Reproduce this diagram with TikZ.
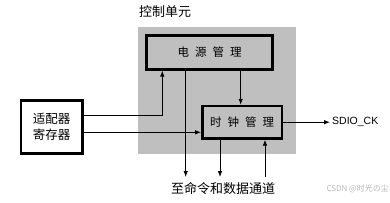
\documentclass[tikz,border=0pt]{standalone}
\usepackage{fontspec}
\setmainfont{Liberation Sans}
\newfontfamily\cjk{Noto Sans CJK SC}
\usetikzlibrary{arrows.meta,positioning}
\colorlet{ctrlGray}{black!25}
\newcommand{\cjkgap}{\hspace{6pt}}
\tikzset{
  >=Latex,
  panel/.style={
    fill=ctrlGray,
    draw=none,
    inner sep=0pt
  },
  unit/.style={
    draw=black,
    fill=ctrlGray,
    line width=2.6pt,
    inner sep=0pt,
    align=center,
    font=\cjk\fontsize{11.5}{14}\selectfont
  },
  regbox/.style={
    draw=black,
    fill=white,
    line width=2.6pt,
    inner sep=0pt,
    align=center,
    font=\cjk\fontsize{12.5}{16}\selectfont
  },
  arrow/.style={
    -{Latex[length=6pt,width=4.5pt]},
    line width=0.8pt,
    draw=black
  },
  lab/.style={
    font=\cjk\fontsize{13}{15}\selectfont,
    inner sep=0pt
  }
}
\begin{document}
\begin{tikzpicture}[x=1pt,y=-1pt]
\useasboundingbox (0,0) rectangle (390,202);

\node[panel, minimum width=158pt, minimum height=127pt] (ctrl) at (217,90) {};
\node[lab] (ctrltitle) at (165,12) {控制单元};

\node[unit, minimum width=126pt, minimum height=33.5pt] (power) at (209.7,52.5)
{电\cjkgap 源\cjkgap 管\cjkgap 理};
\node[unit, minimum width=79.7pt, minimum height=32.3pt] (clock) at (242.2,122.2)
{时\cjkgap 钟\cjkgap 管\cjkgap 理};
\node[regbox, minimum width=61.3pt, minimum height=52.6pt] (adapter) at (51.7,127)
{适配器\\寄存器};

\node[lab] (bus) at (223,189) {至命令和数据通道};
\node[font=\fontsize{10.5}{12}\selectfont, anchor=west, inner sep=0pt] (sdio) at (332,121.5) {SDIO\_CK};
\node[font=\cjk\fontsize{8}{10}\selectfont, text=black!28, anchor=east, inner sep=0pt] (mark) at (389,189) {CSDN @时光の尘};

% connector end points
\coordinate (a1) at ([yshift=11.3pt]adapter.east);
\coordinate (a2) at ([yshift=-5.3pt]adapter.east);
\coordinate (p1) at ([xshift=-47.4pt]power.south);
\coordinate (p2) at ([xshift=-24pt]power.south);
\coordinate (p3) at ([xshift=31pt]power.south);
\coordinate (c1) at ([xshift=-22.2pt]clock.south);
\coordinate (c2) at ([xshift=22.8pt]clock.south);
\coordinate (outL) at (185.7,177);
\coordinate (outM) at (220,177);
\coordinate (inR) at (265,177);
\coordinate (ck) at (330,122.2);

\draw[arrow] (a1) -| (p1);
\draw[arrow] (a2) -- (a2 -| clock.west);
\draw[arrow] (p2) -- (outL);
\draw[arrow] (p3) -- (p3 |- clock.north);
\draw[arrow] (c1) -- (outM);
\draw[arrow] (inR) -- (c2);
\draw[arrow] (clock.east |- ck) -- (ck);

\end{tikzpicture}
\end{document}
